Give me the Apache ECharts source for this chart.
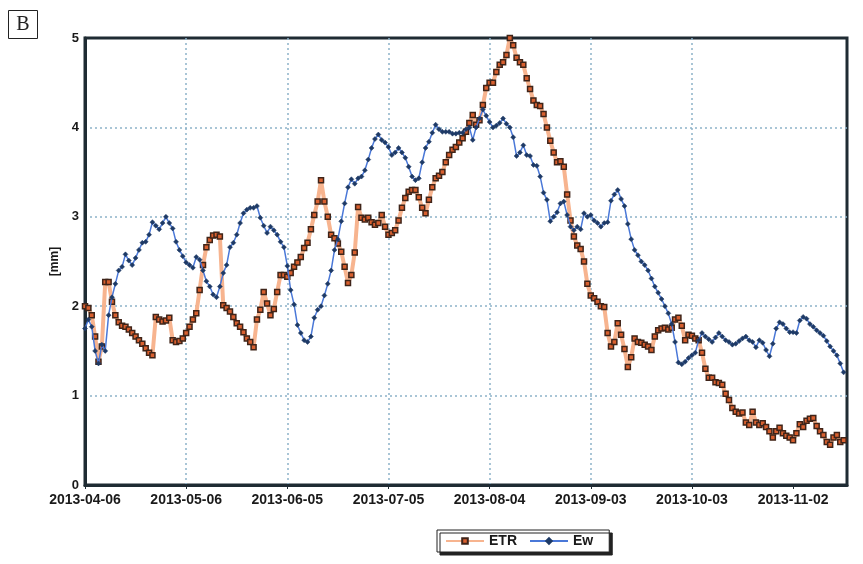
<!DOCTYPE html>
<html>
<head>
<meta charset="utf-8">
<script src="https://cdn.jsdelivr.net/npm/echarts@6/dist/echarts.min.js"></script>
<style>
  html, body { margin: 0; padding: 0; background: #ffffff; }
  #chart { width: 863px; height: 564px; }
</style>
</head>
<body>
<div id="chart"></div>
<script>
// Daily series, starting 2013-04-06
var startDate = '2013-04-06';
var dayCount = 227;

var etr = [
  2.00, 1.98, 1.90, 1.66, 1.38, 1.55, 2.27, 2.27, 2.05, 1.90,
  1.82, 1.78, 1.77, 1.74, 1.70, 1.66, 1.62, 1.58, 1.53, 1.48,
  1.45, 1.88, 1.85, 1.83, 1.84, 1.87, 1.62, 1.60, 1.61, 1.64,
  1.70, 1.77, 1.85, 1.92, 2.18, 2.46, 2.66, 2.74, 2.79, 2.80,
  2.78, 2.01, 1.98, 1.94, 1.88, 1.81, 1.77, 1.71, 1.64, 1.60,
  1.54, 1.85, 1.96, 2.16, 2.03, 1.90, 1.97, 2.16, 2.35, 2.35,
  2.33, 2.37, 2.44, 2.49, 2.55, 2.65, 2.71, 2.86, 3.02, 3.17,
  3.41, 3.17, 3.00, 2.80, 2.76, 2.70, 2.61, 2.44, 2.26, 2.35,
  2.60, 3.11, 2.99, 2.97, 2.99, 2.94, 2.91, 2.93, 3.02, 2.89,
  2.80, 2.82, 2.85, 2.96, 3.10, 3.21, 3.28, 3.30, 3.30, 3.22,
  3.10, 3.04, 3.19, 3.33, 3.43, 3.46, 3.50, 3.61, 3.69, 3.75,
  3.78, 3.83, 3.88, 3.95, 4.05, 4.14, 4.03, 4.08, 4.25, 4.44,
  4.50, 4.50, 4.62, 4.70, 4.73, 4.81, 5.00, 4.92, 4.78, 4.73,
  4.70, 4.55, 4.43, 4.30, 4.25, 4.24, 4.15, 4.00, 3.85, 3.72,
  3.61, 3.62, 3.56, 3.25, 2.96, 2.78, 2.68, 2.64, 2.50, 2.25,
  2.12, 2.09, 2.05, 2.00, 1.99, 1.70, 1.55, 1.60, 1.81, 1.68,
  1.52, 1.32, 1.43, 1.64, 1.60, 1.59, 1.57, 1.55, 1.51, 1.66,
  1.73, 1.75, 1.76, 1.74, 1.76, 1.85, 1.87, 1.78, 1.62, 1.68,
  1.67, 1.64, 1.62, 1.48, 1.30, 1.20, 1.20, 1.15, 1.14, 1.12,
  1.02, 0.95, 0.86, 0.82, 0.80, 0.81, 0.70, 0.67, 0.82, 0.70,
  0.67, 0.69, 0.65, 0.60, 0.53, 0.60, 0.64, 0.58, 0.55, 0.53,
  0.50, 0.58, 0.68, 0.65, 0.72, 0.74, 0.75, 0.66, 0.60, 0.56,
  0.48, 0.45, 0.53, 0.56, 0.48, 0.50
];

var ew = [
  1.75, 1.85, 1.77, 1.50, 1.36, 1.57, 1.50, 1.90, 2.10, 2.25,
  2.40, 2.44, 2.58, 2.51, 2.46, 2.54, 2.63, 2.71, 2.72, 2.80,
  2.94, 2.90, 2.86, 2.93, 3.00, 2.93, 2.87, 2.72, 2.63, 2.56,
  2.49, 2.46, 2.43, 2.55, 2.52, 2.40, 2.28, 2.22, 2.13, 2.10,
  2.22, 2.37, 2.46, 2.66, 2.71, 2.80, 2.93, 3.04, 3.08, 3.10,
  3.10, 3.12, 2.99, 2.90, 2.82, 2.89, 2.85, 2.80, 2.72, 2.66,
  2.45, 2.18, 2.02, 1.79, 1.70, 1.62, 1.60, 1.66, 1.87, 1.96,
  2.00, 2.12, 2.25, 2.40, 2.63, 2.75, 2.95, 3.15, 3.33, 3.42,
  3.37, 3.43, 3.45, 3.52, 3.64, 3.77, 3.87, 3.92, 3.86, 3.83,
  3.78, 3.69, 3.72, 3.77, 3.72, 3.66, 3.56, 3.45, 3.41, 3.43,
  3.61, 3.77, 3.84, 3.94, 4.03, 3.98, 3.95, 3.95, 3.95, 3.93,
  3.93, 3.94, 3.94, 3.98, 4.00, 3.86, 4.00, 4.10, 4.20, 4.13,
  4.06, 4.00, 4.02, 4.05, 4.10, 4.04, 4.00, 3.89, 3.68, 3.72,
  3.80, 3.69, 3.68, 3.58, 3.57, 3.45, 3.27, 3.19, 2.95, 3.00,
  3.05, 3.15, 3.17, 3.02, 2.89, 2.85, 2.89, 2.86, 3.04, 3.00,
  3.02, 2.96, 2.93, 2.89, 2.93, 2.94, 3.18, 3.25, 3.30, 3.20,
  3.12, 2.92, 2.75, 2.63, 2.57, 2.50, 2.46, 2.40, 2.31, 2.22,
  2.15, 2.08, 2.00, 1.92, 1.80, 1.60, 1.37, 1.35, 1.38, 1.42,
  1.45, 1.48, 1.62, 1.70, 1.66, 1.63, 1.60, 1.65, 1.70, 1.66,
  1.62, 1.60, 1.57, 1.58, 1.61, 1.64, 1.66, 1.62, 1.60, 1.54,
  1.62, 1.59, 1.51, 1.44, 1.58, 1.75, 1.82, 1.80, 1.75, 1.71,
  1.71, 1.70, 1.84, 1.88, 1.86, 1.80, 1.77, 1.73, 1.70, 1.67,
  1.61, 1.55, 1.50, 1.45, 1.36, 1.26
];

var yTicks = [0, 1, 2, 3, 4, 5];

function pad(n) { return n < 10 ? '0' + n : '' + n; }
var dates = [];
(function () {
  var p = startDate.split('-');
  var d = new Date(Date.UTC(+p[0], +p[1] - 1, +p[2]));
  for (var i = 0; i < dayCount; i++) {
    dates.push(d.getUTCFullYear() + '-' + pad(d.getUTCMonth() + 1) + '-' + pad(d.getUTCDate()));
    d.setUTCDate(d.getUTCDate() + 1);
  }
})();

var axisDark = '#1f2b33';
var gridDot = '#8db2c9';
var labelFont = "'Liberation Sans', Arial, sans-serif";

var chart = echarts.init(document.getElementById('chart'), null, { renderer: 'canvas' });

chart.setOption({
  backgroundColor: '#ffffff',
  animation: false,
  grid: {
    left: 85, right: 16, top: 38, bottom: 79,
    show: true,
    borderColor: axisDark,
    borderWidth: 3,
    backgroundColor: 'transparent'
  },
  xAxis: {
    type: 'category',
    data: dates,
    boundaryGap: false,
    axisLine: { show: true, lineStyle: { color: axisDark, width: 3 } },
    axisTick: { show: true, interval: 29, length: 4, lineStyle: { color: axisDark, width: 1 } },
    axisLabel: {
      interval: 29,
      color: '#1a1a1a',
      fontWeight: 'bold',
      fontSize: 14,
      fontFamily: labelFont,
      margin: 8
    },
    splitLine: {
      show: true,
      interval: 29,
      showMinLine: false,
      showMaxLine: false,
      lineStyle: { color: gridDot, type: [2, 3], width: 1.5 }
    }
  },
  yAxis: {
    type: 'value',
    min: yTicks[0],
    max: yTicks[yTicks.length - 1],
    interval: 1,
    name: '[mm]',
    nameLocation: 'middle',
    nameGap: 19,
    nameRotate: 90,
    nameTextStyle: { color: '#1a1a1a', fontWeight: 'bold', fontSize: 12, fontFamily: labelFont },
    axisLine: { show: true, lineStyle: { color: axisDark, width: 3 } },
    axisTick: { show: false },
    axisLabel: { color: '#1a1a1a', fontWeight: 'bold', fontSize: 13, fontFamily: labelFont, margin: 6 },
    splitLine: {
      show: true,
      showMinLine: false,
      showMaxLine: false,
      lineStyle: { color: gridDot, type: [2, 3], width: 1.5 }
    }
  },
  legend: {
    left: 437,
    top: 530,
    orient: 'horizontal',
    backgroundColor: '#ffffff',
    borderColor: '#222222',
    borderWidth: 1,
    shadowColor: '#222222',
    shadowOffsetX: 3,
    shadowOffsetY: 3,
    shadowBlur: 0,
    padding: [4, 16, 4, 8],
    itemGap: 12,
    itemWidth: 38,
    itemHeight: 7,
    textStyle: { color: '#1a1a1a', fontWeight: 'bold', fontSize: 14, fontFamily: labelFont },
    data: ['ETR', 'Ew']
  },
  graphic: [
    {
      type: 'group',
      left: 8,
      top: 10,
      children: [
        { type: 'rect', shape: { x: 0, y: 0, width: 29, height: 28 },
          style: { fill: '#ffffff', stroke: '#222222', lineWidth: 1 } },
        { type: 'text', x: 14.5, y: 14.5,
          style: { text: 'B', fill: '#222222', font: "20px 'Liberation Serif', 'DejaVu Serif', serif",
                   align: 'center', verticalAlign: 'middle' } }
      ]
    }
  ],
  series: [
    {
      name: 'ETR',
      type: 'line',
      data: etr,
      symbol: 'rect',
      symbolSize: 5,
      showAllSymbol: true,
      lineStyle: { color: '#f7b48f', width: 4 },
      itemStyle: { color: '#d9602f', borderColor: '#3f2419', borderWidth: 1.5 },
      z: 2
    },
    {
      name: 'Ew',
      type: 'line',
      data: ew,
      symbol: 'diamond',
      symbolSize: 5,
      showAllSymbol: true,
      lineStyle: { color: '#4a78d8', width: 1.5 },
      itemStyle: { color: '#1e3a66', borderColor: '#1e3a66', borderWidth: 0.5 },
      z: 3
    }
  ]
});
</script>
</body>
</html>
